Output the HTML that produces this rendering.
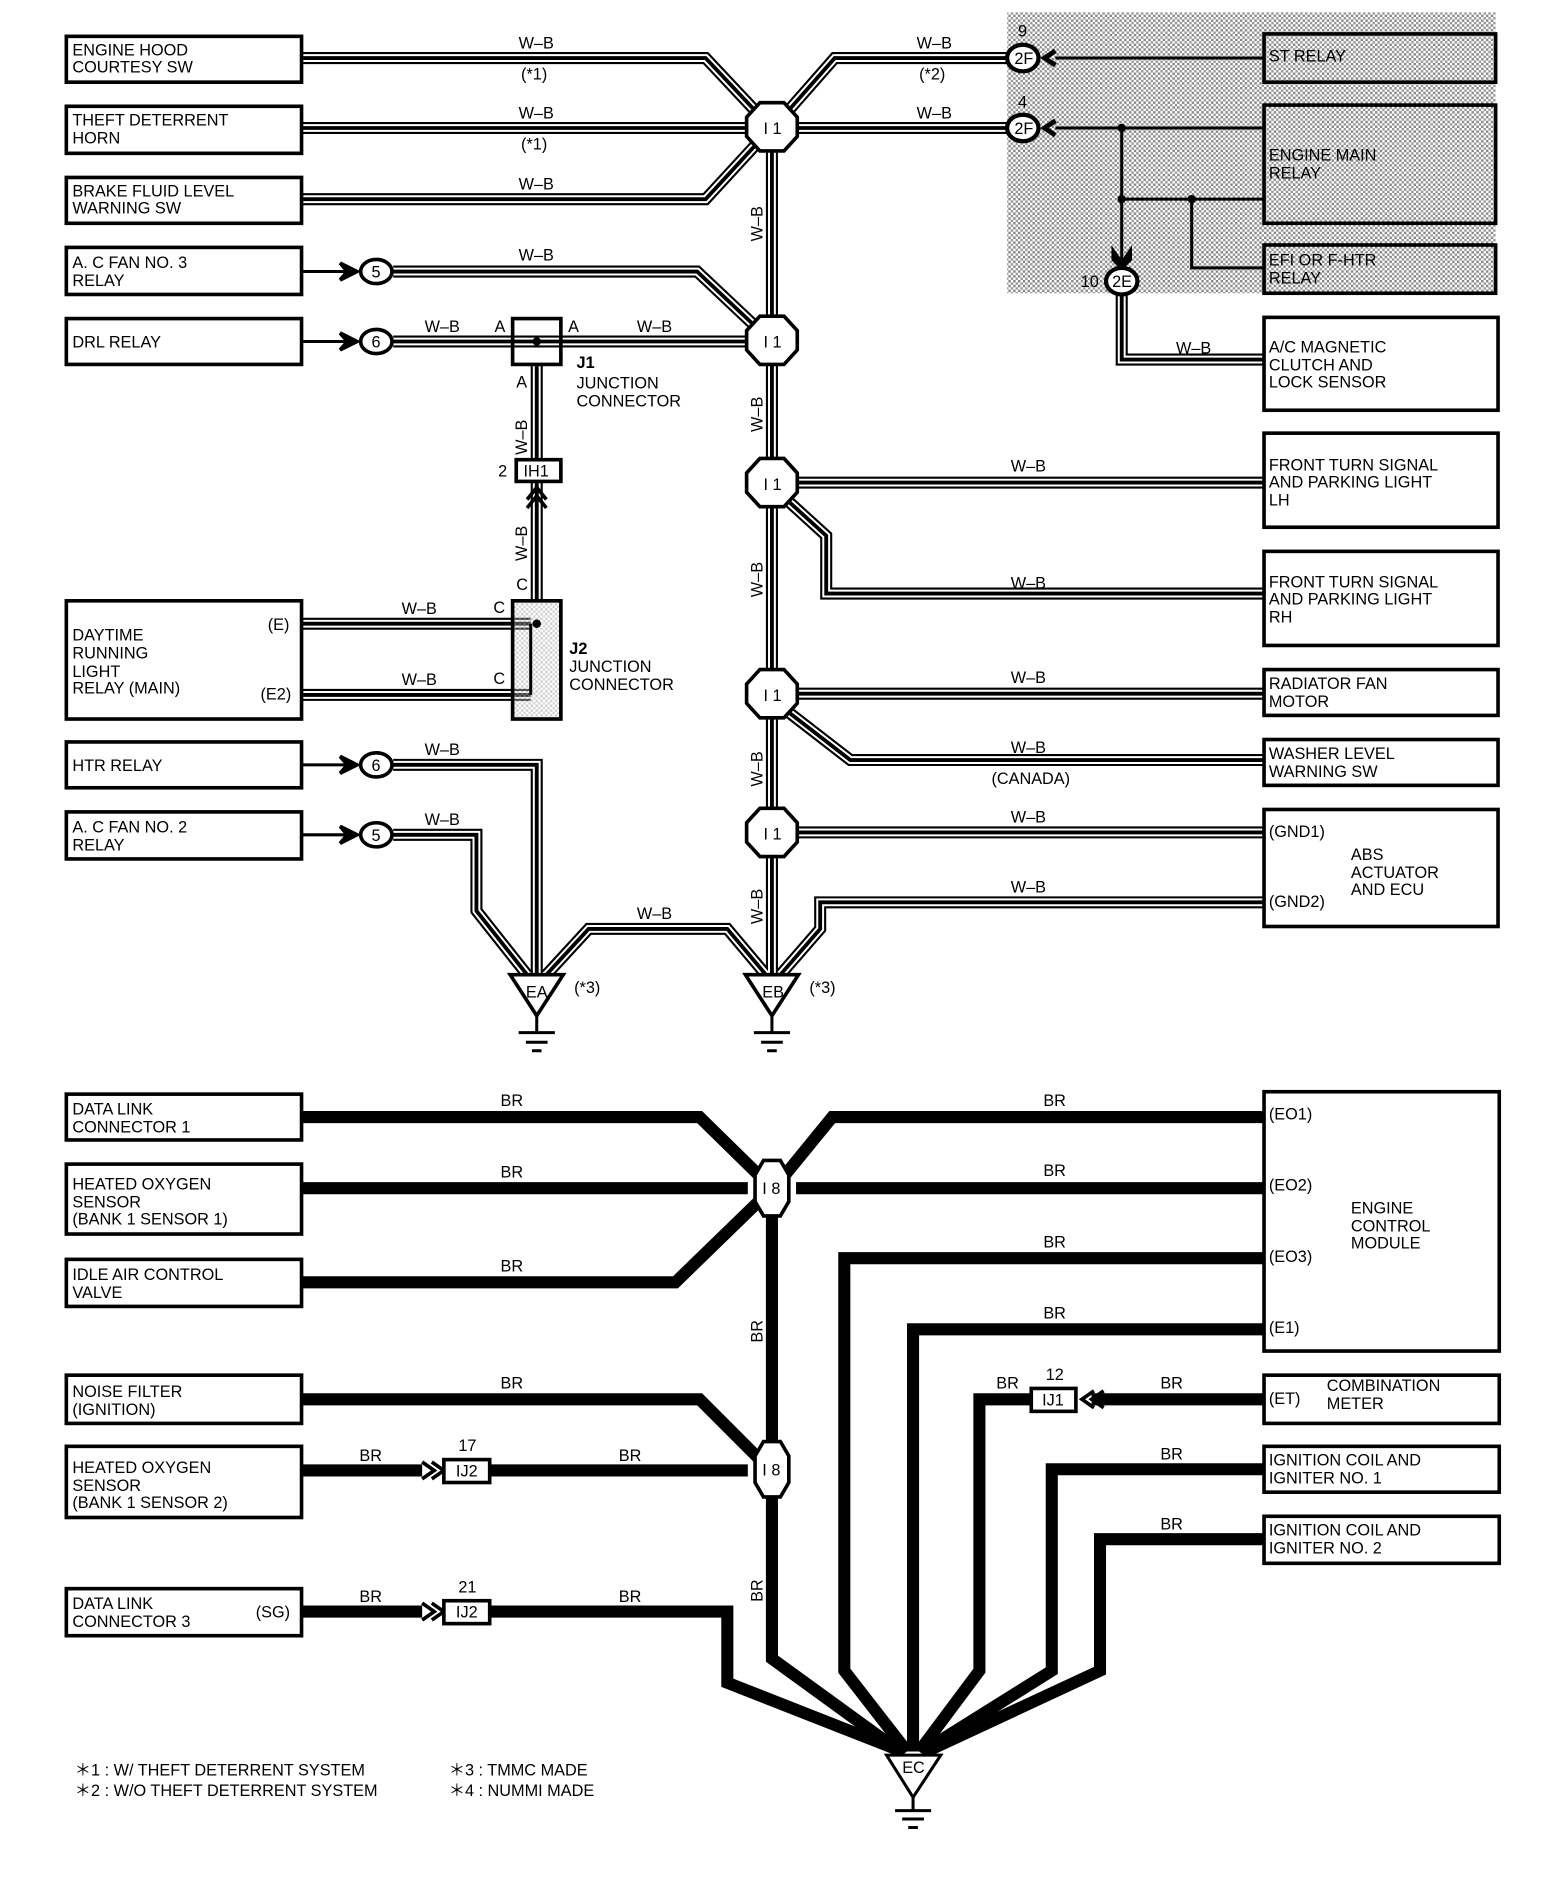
<!DOCTYPE html>
<html><head><meta charset="utf-8"><style>
html,body{margin:0;padding:0;background:#fff}
svg{display:block}
text{font-family:"Liberation Sans",sans-serif;font-size:13.5px;fill:#000}
.bx{fill:#fff;stroke:#000;stroke-width:3}
.wa{fill:none;stroke:#000;stroke-width:10;stroke-linejoin:miter}
.wb{fill:none;stroke:#fff;stroke-width:6.5}
.wc{fill:none;stroke:#000;stroke-width:3.2}
.br{fill:none;stroke:#000;stroke-width:10;stroke-linejoin:miter}
.oc{fill:#fff;stroke:#000;stroke-width:3}
.ln{fill:none;stroke:#000;stroke-width:2.5}
</style></head><body>
<svg width="1568" height="1900" viewBox="0 0 1300 1575" xmlns="http://www.w3.org/2000/svg">
<defs>
<pattern id="dots" width="4" height="4" patternUnits="userSpaceOnUse">
<rect width="4" height="4" fill="#fff"/><rect width="2" height="2" fill="#888"/><rect x="2" y="2" width="2" height="2" fill="#999"/>
</pattern>
<path id="w1" d="M250 48 H585 L632 98"/>
<path id="w2" d="M250 106 H620"/>
<path id="w3" d="M250 165 H585 L632 114"/>
<path id="w4" d="M648 98 L692 48 H836"/>
<path id="w5" d="M660 106 H836"/>
<path id="w6" d="M326 225 H578 L630 274"/>
<path id="w7" d="M326 283 H620"/>
<path id="w8" d="M445 302 V381"/>
<path id="w9" d="M445 399 V498"/>
<path id="w10" d="M250 517 H440"/>
<path id="w11" d="M250 576 H440"/>
<path id="w12" d="M326 634 H445 V808"/>
<path id="w13" d="M326 692 H395 V755 L437 808"/>
<path id="w14" d="M453 808 L488 770 H603 L635 808"/>
<path id="w15" d="M640 125 V262 M640 302 V380 M640 420 V555 M640 595 V670 M640 710 V808"/>
<path id="w16" d="M660 400 H1048"/>
<path id="w17" d="M652 414 L685 444 V492 H1048"/>
<path id="w18" d="M660 575 H1048"/>
<path id="w19" d="M652 589 L705 630 H1048"/>
<path id="w20" d="M660 690 H1048"/>
<path id="w21" d="M647 808 L680 770 V748 H1048"/>
<path id="w22" d="M930 245 V298 H1048"/>
</defs>

<!-- shaded area -->
<rect x="835" y="10" width="405" height="233" fill="url(#dots)"/>

<!-- W-B wires -->
<g>
<use href="#w1" class="wa"/><use href="#w2" class="wa"/><use href="#w3" class="wa"/><use href="#w4" class="wa"/><use href="#w5" class="wa"/><use href="#w6" class="wa"/><use href="#w7" class="wa"/><use href="#w8" class="wa"/><use href="#w9" class="wa"/><use href="#w10" class="wa"/><use href="#w11" class="wa"/><use href="#w12" class="wa"/><use href="#w13" class="wa"/><use href="#w14" class="wa"/><use href="#w15" class="wa"/><use href="#w16" class="wa"/><use href="#w17" class="wa"/><use href="#w18" class="wa"/><use href="#w19" class="wa"/><use href="#w20" class="wa"/><use href="#w21" class="wa"/><use href="#w22" class="wa"/>
<use href="#w1" class="wb"/><use href="#w2" class="wb"/><use href="#w3" class="wb"/><use href="#w4" class="wb"/><use href="#w5" class="wb"/><use href="#w6" class="wb"/><use href="#w7" class="wb"/><use href="#w8" class="wb"/><use href="#w9" class="wb"/><use href="#w10" class="wb"/><use href="#w11" class="wb"/><use href="#w12" class="wb"/><use href="#w13" class="wb"/><use href="#w14" class="wb"/><use href="#w15" class="wb"/><use href="#w16" class="wb"/><use href="#w17" class="wb"/><use href="#w18" class="wb"/><use href="#w19" class="wb"/><use href="#w20" class="wb"/><use href="#w21" class="wb"/><use href="#w22" class="wb"/>
<use href="#w1" class="wc"/><use href="#w2" class="wc"/><use href="#w3" class="wc"/><use href="#w4" class="wc"/><use href="#w5" class="wc"/><use href="#w6" class="wc"/><use href="#w7" class="wc"/><use href="#w8" class="wc"/><use href="#w9" class="wc"/><use href="#w10" class="wc"/><use href="#w11" class="wc"/><use href="#w12" class="wc"/><use href="#w13" class="wc"/><use href="#w14" class="wc"/><use href="#w15" class="wc"/><use href="#w16" class="wc"/><use href="#w17" class="wc"/><use href="#w18" class="wc"/><use href="#w19" class="wc"/><use href="#w20" class="wc"/><use href="#w21" class="wc"/><use href="#w22" class="wc"/>
</g>

<!-- shaded-area thin wires -->
<path class="ln" d="M875 48 H1048 M875 106 H1048 M930 106 V215 M930 165 H1048 M988 165 V222 H1048"/>
<circle cx="930" cy="106" r="3.5"/><circle cx="930" cy="165" r="3.5"/><circle cx="988" cy="165" r="3.5"/>
<path d="M923 208 L930 218 L937 208 L937 215 L930 222 L923 215 Z" stroke="#000" stroke-width="3"/>
<!-- 2F / 2E connectors -->
<ellipse cx="848" cy="48" rx="13" ry="11" fill="#fff" stroke="#000" stroke-width="3.5"/><text x="841" y="53" font-size="12">2F</text>
<ellipse cx="848" cy="106" rx="13" ry="11" fill="#fff" stroke="#000" stroke-width="3.5"/><text x="841" y="111" font-size="12">2F</text>
<ellipse cx="930" cy="233" rx="13" ry="11" fill="#fff" stroke="#000" stroke-width="3.5"/><text x="922" y="238" font-size="12">2E</text>
<path d="M875 42 L866 48 L875 54" fill="none" stroke="#000" stroke-width="4"/>
<path d="M875 100 L866 106 L875 112" fill="none" stroke="#000" stroke-width="4"/>
<text x="844" y="30">9</text><text x="844" y="89">4</text><text x="896" y="238">10</text>

<!-- top-left boxes -->
<rect class="bx" x="55" y="30" width="195" height="38"/><text x="60" y="46">ENGINE HOOD</text><text x="60" y="60">COURTESY SW</text>
<rect class="bx" x="55" y="88" width="195" height="39"/><text x="60" y="104">THEFT DETERRENT</text><text x="60" y="119">HORN</text>
<rect class="bx" x="55" y="147" width="195" height="38"/><text x="60" y="163">BRAKE FLUID LEVEL</text><text x="60" y="177">WARNING SW</text>
<rect class="bx" x="55" y="205" width="195" height="39"/><text x="60" y="222">A. C FAN NO. 3</text><text x="60" y="237">RELAY</text>
<rect class="bx" x="55" y="264" width="195" height="38"/><text x="60" y="288">DRL RELAY</text>
<rect class="bx" x="55" y="498" width="195" height="98"/><text x="60" y="531">DAYTIME</text><text x="60" y="546">RUNNING</text><text x="60" y="561">LIGHT</text><text x="60" y="575">RELAY (MAIN)</text><text x="222" y="522">(E)</text><text x="216" y="580">(E2)</text>
<rect class="bx" x="55" y="615" width="195" height="38"/><text x="60" y="639">HTR RELAY</text>
<rect class="bx" x="55" y="673" width="195" height="39"/><text x="60" y="690">A. C FAN NO. 2</text><text x="60" y="705">RELAY</text>

<!-- small connectors 5/6 -->
<g stroke="#000" stroke-width="2.5" fill="none">
<path d="M250 225 H292 M250 283 H292 M250 634 H292 M250 692 H292"/>
</g>
<g>
<path d="M282 218 L296 225 L282 232 L288 225 Z" stroke="#000" stroke-width="3"/>
<path d="M282 276 L296 283 L282 290 L288 283 Z" stroke="#000" stroke-width="3"/>
<path d="M282 627 L296 634 L282 641 L288 634 Z" stroke="#000" stroke-width="3"/>
<path d="M282 685 L296 692 L282 699 L288 692 Z" stroke="#000" stroke-width="3"/>
<ellipse cx="312" cy="225" rx="13" ry="10" fill="#fff" stroke="#000" stroke-width="3"/><text x="308" y="230">5</text>
<ellipse cx="312" cy="283" rx="13" ry="10" fill="#fff" stroke="#000" stroke-width="3"/><text x="308" y="288">6</text>
<ellipse cx="312" cy="634" rx="13" ry="10" fill="#fff" stroke="#000" stroke-width="3"/><text x="308" y="639">6</text>
<ellipse cx="312" cy="692" rx="13" ry="10" fill="#fff" stroke="#000" stroke-width="3"/><text x="308" y="697">5</text>
</g>

<!-- J1 -->
<rect x="425" y="264" width="40" height="38" fill="none" stroke="#000" stroke-width="3"/>
<circle cx="445" cy="283" r="3.5"/>
<text x="410" y="275">A</text><text x="471" y="275">A</text><text x="428" y="321">A</text>
<text x="478" y="305" font-weight="bold" font-size="15">J1</text><text x="478" y="322">JUNCTION</text><text x="478" y="337">CONNECTOR</text>
<!-- IH1 -->
<rect x="428" y="381" width="37" height="18" fill="#fff" stroke="#000" stroke-width="3"/><text x="434" y="395">IH1</text><text x="413" y="395">2</text>
<path d="M437 414 L445 404 L453 414 M437 421 L445 411 L453 421" fill="none" stroke="#000" stroke-width="3"/>
<!-- J2 -->
<rect x="425" y="498" width="40" height="98" fill="url(#dots)" stroke="#000" stroke-width="3" fill-opacity="0.4"/>
<path d="M440 517 V576" stroke="#000" stroke-width="2.5"/><circle cx="445" cy="517" r="3.5"/>
<text x="428" y="489">C</text><text x="409" y="508">C</text><text x="409" y="567">C</text>
<text x="472" y="542" font-weight="bold" font-size="15">J2</text><text x="472" y="557">JUNCTION</text><text x="472" y="572">CONNECTOR</text>

<!-- W-B labels -->
<g>
<text x="430" y="40">W–B</text><text x="432" y="66">(*1)</text>
<text x="430" y="98">W–B</text><text x="432" y="124">(*1)</text>
<text x="430" y="157">W–B</text><text x="430" y="216">W–B</text>
<text x="352" y="275">W–B</text><text x="528" y="275">W–B</text>
<text x="760" y="40">W–B</text><text x="762" y="66">(*2)</text>
<text x="760" y="98">W–B</text>
<text x="975" y="293">W–B</text>
<text x="333" y="509">W–B</text><text x="333" y="568">W–B</text>
<text x="352" y="626">W–B</text><text x="352" y="684">W–B</text>
<text x="528" y="762">W–B</text>
<text x="838" y="391">W–B</text><text x="838" y="488">W–B</text><text x="838" y="566">W–B</text><text x="838" y="624">W–B</text><text x="822" y="650" font-size="12.5">(CANADA)</text>
<text x="838" y="682">W–B</text><text x="838" y="740">W–B</text>
<text transform="translate(632 200) rotate(-90)">W–B</text>
<text transform="translate(632 358) rotate(-90)">W–B</text>
<text transform="translate(632 495) rotate(-90)">W–B</text>
<text transform="translate(632 652) rotate(-90)">W–B</text>
<text transform="translate(632 766) rotate(-90)">W–B</text>
<text transform="translate(437 377) rotate(-90)">W–B</text>
<text transform="translate(437 465) rotate(-90)">W–B</text>
</g>

<!-- I1 octagons -->
<g>
<polygon class="oc" points="630,85 650,85 661,97 661,113 650,125 630,125 619,113 619,97"/><text x="633" y="111">I 1</text>
<polygon class="oc" points="630,262 650,262 661,274 661,290 650,302 630,302 619,290 619,274"/><text x="633" y="288">I 1</text>
<polygon class="oc" points="630,380 650,380 661,392 661,408 650,420 630,420 619,408 619,392"/><text x="633" y="406">I 1</text>
<polygon class="oc" points="630,555 650,555 661,567 661,583 650,595 630,595 619,583 619,567"/><text x="633" y="581">I 1</text>
<polygon class="oc" points="630,670 650,670 661,682 661,698 650,710 630,710 619,698 619,682"/><text x="633" y="696">I 1</text>
</g>

<!-- grounds EA EB -->
<polygon points="423,808 467,808 445,842" fill="#fff" stroke="#000" stroke-width="3"/><text x="436" y="827">EA</text><text x="476" y="823">(*3)</text>
<path d="M445 842 V855 M430 856 H460 M436 864 H454 M441 871 H449" stroke="#000" stroke-width="2.5"/>
<polygon points="618,808 662,808 640,842" fill="#fff" stroke="#000" stroke-width="3"/><text x="632" y="827">EB</text><text x="671" y="823">(*3)</text>
<path d="M640 842 V855 M625 856 H655 M631 864 H649 M636 871 H644" stroke="#000" stroke-width="2.5"/>

<!-- right boxes top -->
<rect class="bx" x="1048" y="28" width="192" height="40" fill="none" style="fill:none"/><text x="1052" y="51">ST RELAY</text>
<rect class="bx" x="1048" y="87" width="192" height="98" style="fill:none"/><text x="1052" y="133">ENGINE MAIN</text><text x="1052" y="148">RELAY</text>
<rect class="bx" x="1048" y="203" width="192" height="40" style="fill:none"/><text x="1052" y="220">EFI OR F-HTR</text><text x="1052" y="235">RELAY</text>
<rect class="bx" x="1048" y="263" width="194" height="77"/><text x="1052" y="292">A/C MAGNETIC</text><text x="1052" y="307">CLUTCH AND</text><text x="1052" y="321">LOCK SENSOR</text>
<rect class="bx" x="1048" y="359" width="194" height="78"/><text x="1052" y="390">FRONT TURN SIGNAL</text><text x="1052" y="404">AND PARKING LIGHT</text><text x="1052" y="419">LH</text>
<rect class="bx" x="1048" y="457" width="194" height="78"/><text x="1052" y="487">FRONT TURN SIGNAL</text><text x="1052" y="501">AND PARKING LIGHT</text><text x="1052" y="516">RH</text>
<rect class="bx" x="1048" y="555" width="194" height="38"/><text x="1052" y="571">RADIATOR FAN</text><text x="1052" y="586">MOTOR</text>
<rect class="bx" x="1048" y="613" width="194" height="38"/><text x="1052" y="629">WASHER LEVEL</text><text x="1052" y="644">WARNING SW</text>
<rect class="bx" x="1048" y="671" width="194" height="97"/><text x="1052" y="694">(GND1)</text><text x="1052" y="752">(GND2)</text><text x="1120" y="713">ABS</text><text x="1120" y="728">ACTUATOR</text><text x="1120" y="742">AND ECU</text>

<!-- BR section -->
<g class="br">
<path class="br" d="M250 926 H580 L630 975"/>
<path class="br" d="M250 985 H620"/>
<path class="br" d="M250 1063 H560 L630 995"/>
<path class="br" d="M650 975 L690 926 H1048"/>
<path class="br" d="M660 985 H1048"/>
<path class="br" d="M1048 1043 H700 V1385 L752 1452"/>
<path class="br" d="M1048 1102 H757 V1452"/>
<path class="br" d="M855 1160 H812 V1385 L762 1452"/>
<path class="br" d="M1048 1160 H905"/>
<path class="br" d="M1048 1218 H872 V1385 L765 1452"/>
<path class="br" d="M1048 1276 H912 V1385 L768 1452"/>
<path class="br" d="M250 1160 H580 L630 1210"/>
<path class="br" d="M250 1219 H350 M405 1219 H620"/>
<path class="br" d="M250 1336 H350 M405 1336 H603 V1395 L748 1452"/>
<path class="br" d="M640 1005 V1198 M640 1238 V1375 L746 1452"/>
</g>
<path d="M350 1212 L360 1219 L350 1226 M358 1212 L368 1219 L358 1226" fill="none" stroke="#000" stroke-width="3"/>
<path d="M350 1329 L360 1336 L350 1343 M358 1329 L368 1336 L358 1343" fill="none" stroke="#000" stroke-width="3"/>
<path d="M907 1153 L897 1160 L907 1167 M915 1153 L905 1160 L915 1167" fill="none" stroke="#000" stroke-width="3"/>
<rect x="368" y="1210" width="38" height="19" fill="#fff" stroke="#000" stroke-width="3"/><text x="378" y="1224">IJ2</text><text x="380" y="1203">17</text>
<rect x="368" y="1327" width="38" height="19" fill="#fff" stroke="#000" stroke-width="3"/><text x="378" y="1341">IJ2</text><text x="380" y="1320">21</text>
<rect x="855" y="1151" width="37" height="19" fill="#fff" stroke="#000" stroke-width="3"/><text x="864" y="1165">IJ1</text><text x="867" y="1144">12</text>

<polygon class="oc" points="633,962 647,962 654,974 654,996 647,1008 633,1008 626,996 626,974"/><text x="632" y="990">I 8</text>
<polygon class="oc" points="633,1195 647,1195 654,1207 654,1229 647,1241 633,1241 626,1229 626,1207"/><text x="632" y="1223">I 8</text>

<g>
<text x="415" y="917">BR</text><text x="415" y="976">BR</text><text x="415" y="1054">BR</text>
<text x="865" y="917">BR</text><text x="865" y="975">BR</text><text x="865" y="1034">BR</text><text x="865" y="1093">BR</text>
<text x="826" y="1151">BR</text><text x="962" y="1151">BR</text><text x="962" y="1210">BR</text><text x="962" y="1268">BR</text>
<text x="415" y="1151">BR</text><text x="298" y="1211">BR</text><text x="513" y="1211">BR</text>
<text x="298" y="1328">BR</text><text x="513" y="1328">BR</text>
<text transform="translate(632 1113) rotate(-90)">BR</text>
<text transform="translate(632 1328) rotate(-90)">BR</text>
</g>

<rect class="bx" x="55" y="907" width="195" height="38"/><text x="60" y="924">DATA LINK</text><text x="60" y="939">CONNECTOR 1</text>
<rect class="bx" x="55" y="965" width="195" height="58"/><text x="60" y="986">HEATED OXYGEN</text><text x="60" y="1001">SENSOR</text><text x="60" y="1015">(BANK 1 SENSOR 1)</text>
<rect class="bx" x="55" y="1044" width="195" height="39"/><text x="60" y="1061">IDLE AIR CONTROL</text><text x="60" y="1076">VALVE</text>
<rect class="bx" x="55" y="1140" width="195" height="40"/><text x="60" y="1158">NOISE FILTER</text><text x="60" y="1173">(IGNITION)</text>
<rect class="bx" x="55" y="1199" width="195" height="59"/><text x="60" y="1221">HEATED OXYGEN</text><text x="60" y="1236">SENSOR</text><text x="60" y="1250">(BANK 1 SENSOR 2)</text>
<rect class="bx" x="55" y="1317" width="195" height="39"/><text x="60" y="1334">DATA LINK</text><text x="60" y="1349">CONNECTOR 3</text><text x="212" y="1341">(SG)</text>

<rect class="bx" x="1048" y="905" width="195" height="215"/><text x="1052" y="928">(EO1)</text><text x="1052" y="987">(EO2)</text><text x="1052" y="1046">(EO3)</text><text x="1052" y="1105">(E1)</text>
<text x="1120" y="1006">ENGINE</text><text x="1120" y="1021">CONTROL</text><text x="1120" y="1035">MODULE</text>
<rect class="bx" x="1048" y="1140" width="195" height="40"/><text x="1052" y="1164">(ET)</text><text x="1100" y="1153">COMBINATION</text><text x="1100" y="1168">METER</text>
<rect class="bx" x="1048" y="1199" width="195" height="38"/><text x="1052" y="1215">IGNITION COIL AND</text><text x="1052" y="1230">IGNITER NO. 1</text>
<rect class="bx" x="1048" y="1257" width="195" height="39"/><text x="1052" y="1273">IGNITION COIL AND</text><text x="1052" y="1288">IGNITER NO. 2</text>

<polygon points="735,1455 780,1455 757,1490" fill="#fff" stroke="#000" stroke-width="2.5"/><text x="748" y="1470">EC</text>
<path d="M757 1490 V1500 M742 1501 H772 M748 1508 H766 M753 1515 H761" stroke="#000" stroke-width="2.5"/>

<text x="62" y="1472">＊1 : W/ THEFT DETERRENT SYSTEM</text>
<text x="62" y="1489">＊2 : W/O THEFT DETERRENT SYSTEM</text>
<text x="372" y="1472">＊3 : TMMC MADE</text>
<text x="372" y="1489">＊4 : NUMMI MADE</text>
</svg>
</body></html>
